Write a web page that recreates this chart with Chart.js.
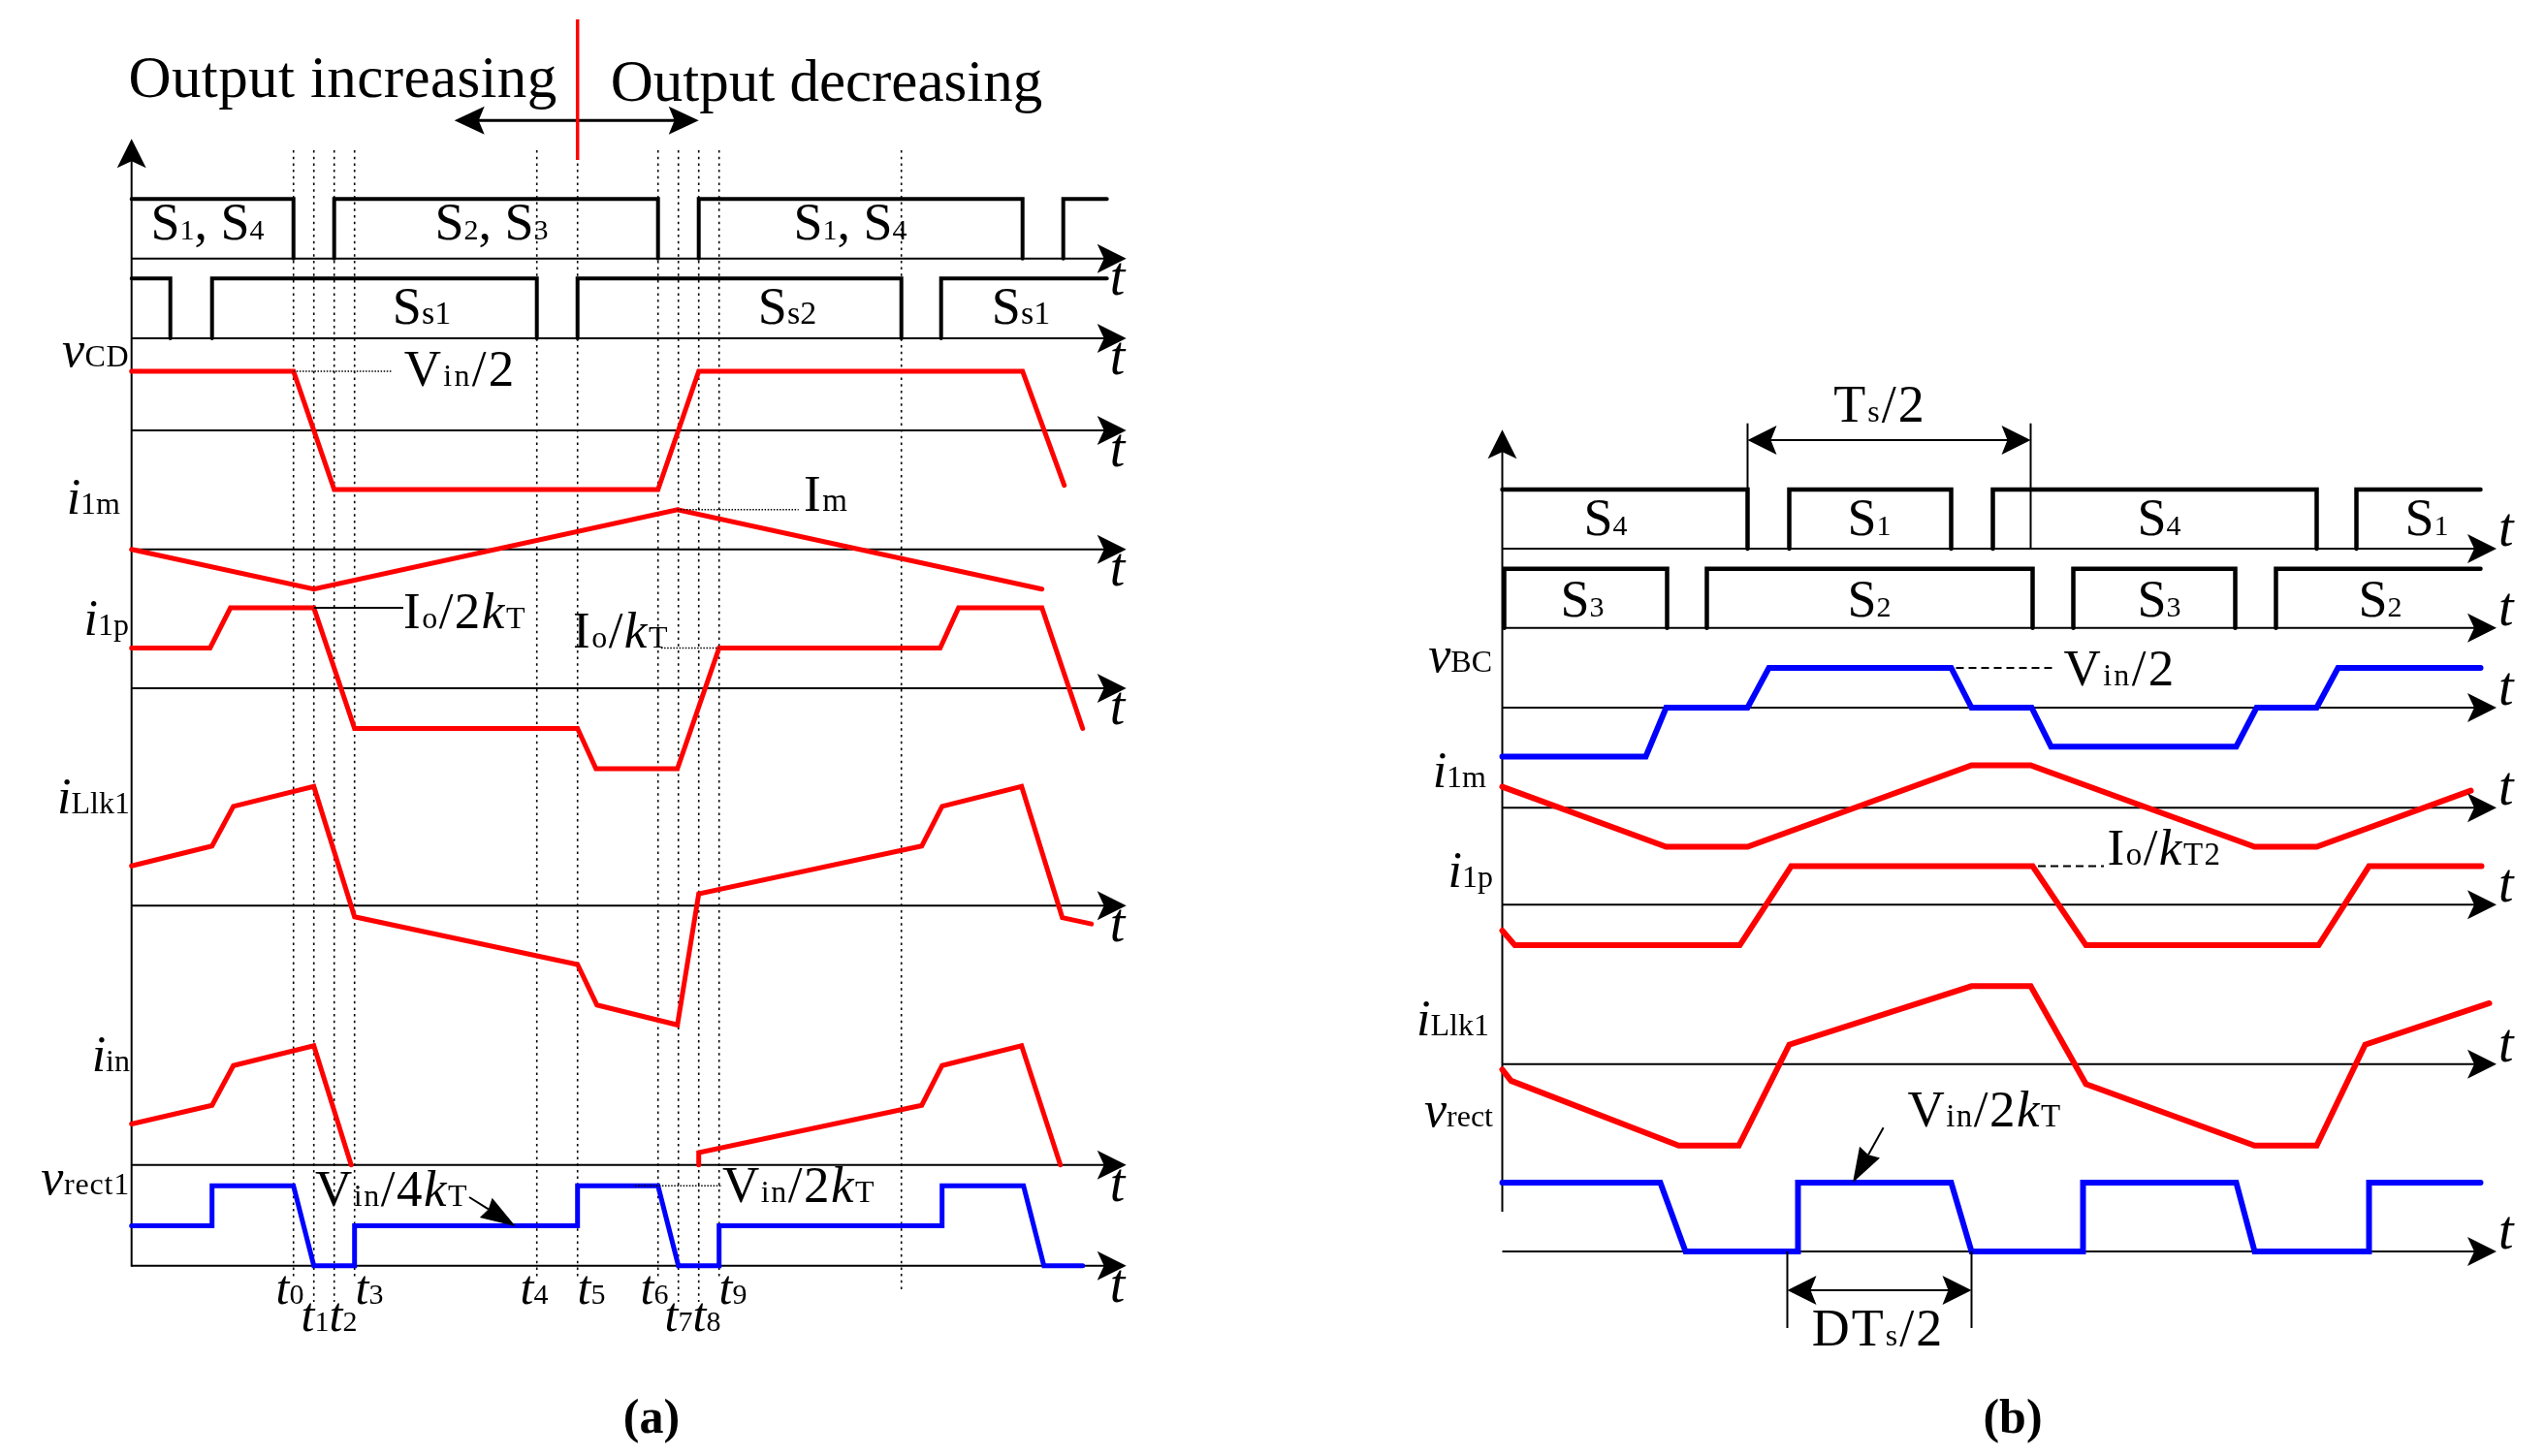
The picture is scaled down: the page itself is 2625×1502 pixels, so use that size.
<!DOCTYPE html>
<html>
<head>
<meta charset="utf-8">
<title>Switching waveforms (a) and (b)</title>
<script src="https://cdn.jsdelivr.net/npm/chart.js@4.4.1/dist/chart.umd.min.js"></script>
<style>
html,body{margin:0;padding:0;background:#fff;overflow:hidden;}
#c{display:block;}
</style>
</head>
<body>
<canvas id="c" width="2625" height="1502"></canvas>
<script>
// ================= DATA =================
// time t: arbitrary units measured from the vertical axis; levels in per-unit of each trace
// ---- Panel (a) ----
const aS14On = [[0, 16.7], [20.9, 54.3], [58.5, 91.9], [96.1, 100.6]];   // S1,S4 / S2,S3 gate on-intervals
const aSsOn  = [[0, 4.0], [8.3, 41.8], [46.0, 79.4], [83.5, 100.6]];     // Ss1 / Ss2 on-intervals
const aVcdT = [0, 16.7, 20.9, 54.3, 58.5, 91.9, 96.2];
const aVcdV = [1, 1, -1, -1, 1, 1, -0.93];
const aI1mT = [0, 18.8, 56.3, 93.9];
const aI1mV = [0, -1, 1, -1];
const aI1pT = [0, 8.1, 10.2, 18.8, 23.0, 46.0, 47.9, 56.3, 60.6, 83.4, 85.3, 93.9, 98.1];
const aI1pV = [1, 1, 2, 2, -1, -1, -2, -2, 1, 1, 2, 2, -1];
const aIlkT = [0, 8.3, 10.5, 18.8, 23.0, 46.0, 48.0, 56.3, 58.5, 81.5, 83.6, 91.8, 96.0, 99.0];
const aIlkV = [1.0, 1.5, 2.5, 3.0, -0.28, -1.48, -2.5, -3.0, 0.3, 1.5, 2.5, 3.0, -0.3, -0.46];
const aIinT = [0, 8.3, 10.5, 18.8, 22.65, 40.0, 58.5, 58.5, 81.5, 83.6, 91.8, 95.8];
const aIinV = [1.03, 1.5, 2.5, 3.0, 0, null, 0, 0.31, 1.5, 2.5, 3.0, 0];
const aVrT  = [0, 8.3, 8.3, 16.7, 18.8, 23.0, 23.0, 46.0, 46.0, 54.3, 56.4, 60.6, 60.6, 83.6, 83.6, 92.0, 94.1, 98.1];
const aVrV  = [1, 1, 2, 2, 0, 0, 1, 1, 2, 2, 0, 0, 1, 1, 2, 2, 0, 0];
const aInstants = [16.7, 18.8, 20.9, 23.0, 41.8, 46.0, 54.3, 56.4, 58.5, 60.6, 79.4];
const aInstantNames = ['0', '1', '2', '3', '4', '5', '6', '7', '8', '9', ''];
const aModeChange = 46.0;          // boundary "Output increasing | Output decreasing"
const aModeArrow = [33.3, 58.5];

// ---- Panel (b) ----
const bS41On = [[0, 25.3], [29.6, 46.3], [50.6, 84.0], [88.1, 100.9]];  // S4 / S1
const bS32On = [[0.2, 17.0], [21.1, 54.7], [58.9, 75.6], [79.8, 100.9]]; // S3 / S2
const bVbcT = [0, 14.8, 16.9, 25.3, 27.5, 46.3, 48.4, 54.6, 56.6, 75.7, 77.8, 84.0, 86.2, 100.9];
const bVbcV = [-1.23, -1.23, 0, 0, 1, 1, 0, 0, -0.98, -0.98, 0, 0, 1, 1];
const bI1mT = [0, 16.9, 25.3, 48.4, 54.5, 77.6, 84.0, 99.9];
const bI1mV = [0.53, -0.98, -0.98, 1.07, 1.07, -0.98, -0.98, 0.43];
const bI1pT = [0, 1.3, 24.5, 29.8, 54.7, 60.2, 84.2, 89.4, 101.0];
const bI1pV = [-0.65, -1.02, -1.02, 0.97, 0.97, -1.02, -1.02, 0.97, 0.97];
const bIlkT = [0, 0.9, 18.2, 24.4, 29.6, 48.4, 54.5, 60.2, 77.6, 84.0, 89.0, 101.8];
const bIlkV = [-0.14, -0.42, -2.05, -2.05, 0.49, 1.96, 1.96, -0.5, -2.05, -2.05, 0.49, 1.53];
const bVrT  = [0, 16.3, 18.9, 30.5, 30.5, 46.3, 48.4, 59.9, 59.9, 75.7, 77.6, 89.4, 89.4, 100.9];
const bVrV  = [1, 1, 0, 0, 1, 1, 0, 0, 1, 1, 0, 0, 1, 1];
const bTsHalf  = [25.3, 54.5];
const bDTsHalf = [29.4, 48.4];

// ================= LAYOUT (pixels) =================
const W = 2625, H = 1502;
const LA = { x0: 135.7, k: 10, end: 102.6, top: 143.3, bottom: 1305.7, pulseEnd: 100.6,
  rows: { s14: [266.7, 61.4], ss: [349, 61.7], vcd: [444, 61], i1m: [566.7, 41], i1p: [710, 41.5],
          ilk: [934.3, 41], iin: [1201.7, 41], vr: [1305.7, 41.2] } };
const LB = { x0: 1549.5, k: 10, end: 102.55, top: 443.3, bottom: 1250, pulseEnd: 100.9,
  rows: { s41: [566, 61], s32: [647.7, 61], vbc: [730, 41], i1m: [833.3, 41], i1p: [933.3, 41],
          ilk: [1097.7, 41], vr: [1291, 71] } };
const dotTop = 155;
const dotBottoms = [1318, 1343, 1343, 1318, 1318, 1318, 1318, 1343, 1343, 1318, 1333];
const instantLabelPos = [[299,1345],[325,1373],[354,1373],[381,1345],[551,1345],[610,1345],[675,1345],[700,1373],[729,1373],[756,1345]];

const RED = '#ff0000', BLUE = '#0000ff', BLACK = '#000000';
const FAM = '"Liberation Serif","Times New Roman",serif';

// ================= SCALES =================
const scales = {
  xa: { type: 'linear', axis: 'x', display: false, bounds: 'data', min: -LA.x0 / LA.k, max: (W - LA.x0) / LA.k },
  xb: { type: 'linear', axis: 'x', display: false, bounds: 'data', min: -LB.x0 / LB.k, max: (W - LB.x0) / LB.k }
};
function addRows(prefix, L) {
  for (const id in L.rows) {
    const [base, gain] = L.rows[id];
    scales[prefix + id] = { type: 'linear', axis: 'y', position: 'left', display: false, bounds: 'data',
      min: (base - H) / gain, max: base / gain };
  }
}
addRows('ya_', LA);
addRows('yb_', LB);

// ================= DATASETS =================
function pts(T, V) { return T.map((t, i) => ({ x: t, y: V[i] })); }
function pulsePts(on, end) {
  const p = [];
  on.forEach(([a, b]) => {
    if (a > 0) p.push({ x: a, y: 0 });
    p.push({ x: a, y: 1 }, { x: b, y: 1 });
    if (b < end) p.push({ x: b, y: 0 });
    p.push({ x: b, y: null });
  });
  return p;
}
function ds(label, xId, yId, data, color, w) {
  return { label, xAxisID: xId, yAxisID: yId, data, borderColor: color, backgroundColor: color,
    borderWidth: w, pointRadius: 0, pointHoverRadius: 0, tension: 0, fill: false, spanGaps: false,
    borderJoinStyle: 'miter', borderCapStyle: 'round' };
}
const datasets = [
  ds('vrect1 (a)', 'xa', 'ya_vr', pts(aVrT, aVrV), BLUE, 5),
  ds('vCD', 'xa', 'ya_vcd', pts(aVcdT, aVcdV), RED, 5),
  ds('i1m (a)', 'xa', 'ya_i1m', pts(aI1mT, aI1mV), RED, 5),
  ds('i1p (a)', 'xa', 'ya_i1p', pts(aI1pT, aI1pV), RED, 5),
  ds('iLlk1 (a)', 'xa', 'ya_ilk', pts(aIlkT, aIlkV), RED, 5),
  ds('iin', 'xa', 'ya_iin', pts(aIinT, aIinV), RED, 5),
  ds('S1,S4 / S2,S3', 'xa', 'ya_s14', pulsePts(aS14On, LA.pulseEnd), BLACK, 4),
  ds('Ss1 / Ss2', 'xa', 'ya_ss', pulsePts(aSsOn, LA.pulseEnd), BLACK, 4),
  ds('vBC', 'xb', 'yb_vbc', pts(bVbcT, bVbcV), BLUE, 6),
  ds('vrect (b)', 'xb', 'yb_vr', pts(bVrT, bVrV), BLUE, 6),
  ds('i1m (b)', 'xb', 'yb_i1m', pts(bI1mT, bI1mV), RED, 6),
  ds('i1p (b)', 'xb', 'yb_i1p', pts(bI1pT, bI1pV), RED, 6),
  ds('iLlk1 (b)', 'xb', 'yb_ilk', pts(bIlkT, bIlkV), RED, 6),
  ds('S4 / S1', 'xb', 'yb_s41', pulsePts(bS41On, LB.pulseEnd), BLACK, 4.5),
  ds('S3 / S2', 'xb', 'yb_s32', pulsePts(bS32On, LB.pulseEnd), BLACK, 4.5)
];

// ================= TEXT =================
const textsA = [
  { s: 'Output increasing', x: 132.5, y: 100, a: 'left', size: 61, ls: 0.4 },
  { s: 'Output decreasing', x: 629.7, y: 104, a: 'left', size: 61 },
  { s: 'S_{1}, S_{4}', x: 214, y: 247, a: 'center', size: 54, sub: 30 },
  { s: 'S_{2}, S_{3}', x: 507, y: 247, a: 'center', size: 54, sub: 30 },
  { s: 'S_{1}, S_{4}', x: 877, y: 247, a: 'center', size: 54, sub: 30 },
  { s: 'S_{s1}', x: 435, y: 333.5, a: 'center', size: 54, sub: 34 },
  { s: 'S_{s2}', x: 812, y: 334, a: 'center', size: 54, sub: 34 },
  { s: 'S_{s1}', x: 1053, y: 334, a: 'center', size: 54, sub: 34 },
  { s: '*v*_{CD}', x: 133, y: 378, a: 'right', size: 52, sub: 32, ls: 0.5 },
  { s: 'V_{in}/2', x: 416.7, y: 398.3, a: 'left', size: 53, sub: 32, ls: 2.3 },
  { s: '*i*_{1m}', x: 124, y: 530, a: 'right', size: 52, sub: 32 },
  { s: 'I_{m}', x: 829, y: 527, a: 'left', size: 53, sub: 33, ls: 1.5 },
  { s: '*i*_{1p}', x: 133, y: 655, a: 'right', size: 52, sub: 32 },
  { s: 'I_{o}/2*k*_{T}', x: 416, y: 648, a: 'left', size: 53, sub: 32, ls: 1.5 },
  { s: 'I_{o}/*k*_{T}', x: 591, y: 668, a: 'left', size: 53, sub: 32, ls: 1.5 },
  { s: '*i*_{Llk1}', x: 134, y: 839, a: 'right', size: 52, sub: 32 },
  { s: '*i*_{in}', x: 134, y: 1105, a: 'right', size: 52, sub: 32 },
  { s: '*v*_{rect1}', x: 134, y: 1232, a: 'right', size: 52, sub: 32, ls: 0.8 },
  { s: 'V_{in}/4*k*_{T}', x: 325, y: 1244, a: 'left', size: 53, sub: 32, ls: 1.5 },
  { s: 'V_{in}/2*k*_{T}', x: 745, y: 1240, a: 'left', size: 53, sub: 32, ls: 1.5 },
  { s: '(a)', x: 672, y: 1478, a: 'center', size: 50, bold: true }
];
const textsB = [
  { s: 'T_{s}/2', x: 1939, y: 435, a: 'center', size: 54, sub: 32, ls: 2 },
  { s: 'S_{4}', x: 1656, y: 552, a: 'center', size: 54, sub: 30 },
  { s: 'S_{1}', x: 1928, y: 552, a: 'center', size: 54, sub: 30 },
  { s: 'S_{4}', x: 2227, y: 552, a: 'center', size: 54, sub: 30 },
  { s: 'S_{1}', x: 2503, y: 552, a: 'center', size: 54, sub: 30 },
  { s: 'S_{3}', x: 1632, y: 636, a: 'center', size: 54, sub: 30 },
  { s: 'S_{2}', x: 1928, y: 636, a: 'center', size: 54, sub: 30 },
  { s: 'S_{3}', x: 2227, y: 636, a: 'center', size: 54, sub: 30 },
  { s: 'S_{2}', x: 2455, y: 636, a: 'center', size: 54, sub: 30 },
  { s: '*v*_{BC}', x: 1539, y: 693, a: 'right', size: 52, sub: 32 },
  { s: 'V_{in}/2', x: 2128.6, y: 706.7, a: 'left', size: 53, sub: 32, ls: 2.3 },
  { s: '*i*_{1m}', x: 1533, y: 811.7, a: 'right', size: 52, sub: 32 },
  { s: '*i*_{1p}', x: 1540, y: 915, a: 'right', size: 52, sub: 32 },
  { s: 'I_{o}/*k*_{T2}', x: 2173.5, y: 891.7, a: 'left', size: 53, sub: 33, ls: 1.5 },
  { s: '*i*_{Llk1}', x: 1536, y: 1068.3, a: 'right', size: 52, sub: 32 },
  { s: '*v*_{rect}', x: 1540, y: 1162.3, a: 'right', size: 52, sub: 32 },
  { s: 'V_{in}/2*k*_{T}', x: 1967.4, y: 1161.7, a: 'left', size: 53, sub: 33, ls: 1.5 },
  { s: 'DT_{s}/2', x: 1937, y: 1388.3, a: 'center', size: 54, sub: 32, ls: 2 },
  { s: '(b)', x: 2076, y: 1478, a: 'center', size: 50, bold: true }
];

// ================= DRAW HELPERS =================
function parseRich(str) {
  const out = []; let i = 0, buf = '', it = false;
  while (i < str.length) {
    const ch = str[i];
    if (ch === '*') { if (buf) { out.push([buf, it ? 'i' : '']); buf = ''; } it = !it; i++; }
    else if (ch === '_' && str[i + 1] === '{') {
      if (buf) { out.push([buf, it ? 'i' : '']); buf = ''; }
      const j = str.indexOf('}', i); out.push([str.slice(i + 2, j), 's']); i = j + 1;
    } else { buf += ch; i++; }
  }
  if (buf) out.push([buf, it ? 'i' : '']);
  return out;
}
function drawRich(ctx, o) {
  const ls = o.ls || 0;
  const segs = parseRich(o.s);
  const items = segs.map(([s, st]) => {
    const size = st === 's' ? (o.sub || o.size * 0.6) : o.size;
    const f = (o.bold ? 'bold ' : '') + (st === 'i' ? 'italic ' : '') + size + 'px ' + FAM;
    ctx.font = f;
    const w = ls ? [...s].reduce((a, ch) => a + ctx.measureText(ch).width + ls, 0) : ctx.measureText(s).width;
    return { s, f, w };
  });
  const tw = items.reduce((a, b) => a + b.w, 0);
  let cx = o.a === 'center' ? o.x - tw / 2 : o.a === 'right' ? o.x - tw : o.x;
  ctx.save();
  ctx.fillStyle = '#000'; ctx.textAlign = 'left'; ctx.textBaseline = 'alphabetic';
  for (const itm of items) {
    ctx.font = itm.f;
    if (ls) {
      let px = cx;
      for (const ch of itm.s) { ctx.fillText(ch, px, o.y); px += ctx.measureText(ch).width + ls; }
    } else ctx.fillText(itm.s, cx, o.y);
    cx += itm.w;
  }
  ctx.restore();
}
function line(ctx, x1, y1, x2, y2, w, color, dash) {
  ctx.save(); ctx.strokeStyle = color || '#000'; ctx.lineWidth = w; ctx.setLineDash(dash || []);
  ctx.lineCap = 'butt';
  ctx.beginPath(); ctx.moveTo(x1, y1); ctx.lineTo(x2, y2); ctx.stroke(); ctx.restore();
}
function head(ctx, x, y, ang, len, half, notch) {
  ctx.save(); ctx.translate(x, y); ctx.rotate(ang); ctx.fillStyle = '#000';
  ctx.beginPath(); ctx.moveTo(0, 0); ctx.lineTo(-len, -half); ctx.lineTo(-len + notch, 0); ctx.lineTo(-len, half);
  ctx.closePath(); ctx.fill(); ctx.restore();
}
function arrowTo(ctx, x1, y1, x2, y2, w, len, half, notch) {
  const ang = Math.atan2(y2 - y1, x2 - x1);
  line(ctx, x1, y1, x2 - Math.cos(ang) * (len - notch), y2 - Math.sin(ang) * (len - notch), w);
  head(ctx, x2, y2, ang, len, half, notch);
}
function dimension(ctx, xs, yTop, yBot, yArrow) {
  const [x1, x2] = xs;
  line(ctx, x1, yTop, x1, yBot, 2); line(ctx, x2, yTop, x2, yBot, 2);
  line(ctx, x1 + 20, yArrow, x2 - 20, yArrow, 2);
  head(ctx, x1, yArrow, Math.PI, 30, 15, 6);
  head(ctx, x2, yArrow, 0, 30, 15, 6);
}

const diagram = {
  id: 'diagram',
  beforeDraw(chart) {
    const c = chart.ctx; c.save(); c.fillStyle = '#fff'; c.fillRect(0, 0, chart.width, chart.height); c.restore();
  },
  beforeDatasetsDraw(chart) {
    const c = chart.ctx, S = chart.scales, xa = S.xa, xb = S.xb;
    // dotted time instants (a)
    aInstants.forEach((t, i) => {
      const x = xa.getPixelForValue(t);
      line(c, x, dotTop, x, dotBottoms[i], 1.6, '#000', [2.5, 4.2]);
    });
    // axes (a)
    const ax0 = xa.getPixelForValue(0), axE = xa.getPixelForValue(LA.end);
    line(c, ax0, LA.bottom + 1, ax0, LA.top + 20, 2);
    for (const id in LA.rows) { const y = S['ya_' + id].getPixelForValue(0); line(c, ax0, y, axE - 20, y, 2); }
    // axes (b)
    const bx0 = xb.getPixelForValue(0), bxE = xb.getPixelForValue(LB.end);
    line(c, bx0, LB.bottom, bx0, LB.top + 20, 2);
    for (const id in LB.rows) { const y = S['yb_' + id].getPixelForValue(0); line(c, bx0, y, bxE - 20, y, 2); }
  },
  afterDatasetsDraw(chart) {
    const c = chart.ctx, S = chart.scales, xa = S.xa, xb = S.xb;
    const ax0 = xa.getPixelForValue(0), axE = xa.getPixelForValue(LA.end);
    const bx0 = xb.getPixelForValue(0), bxE = xb.getPixelForValue(LB.end);
    // arrow heads on axes
    head(c, ax0, LA.top, -Math.PI / 2, 30, 15, 7);
    head(c, bx0, LB.top, -Math.PI / 2, 30, 15, 7);
    for (const id in LA.rows) {
      const y = S['ya_' + id].getPixelForValue(0);
      head(c, axE, y, 0, 30, 15, 7);
      drawRich(c, { s: '*t*', x: axE - 17, y: y + 37, a: 'left', size: 56 });
    }
    for (const id in LB.rows) {
      const y = S['yb_' + id].getPixelForValue(0);
      head(c, bxE, y, 0, 30, 15, 7);
      drawRich(c, { s: '*t*', x: bxE + 2, y: y - 3, a: 'left', size: 56 });
    }
    // mode change marker (a)
    const mx1 = xa.getPixelForValue(aModeArrow[0]), mx2 = xa.getPixelForValue(aModeArrow[1]);
    line(c, mx1 + 20, 124.3, mx2 - 20, 124.3, 3);
    head(c, mx1, 124.3, Math.PI, 31, 14.5, 6);
    head(c, mx2, 124.3, 0, 31, 14.5, 6);
    const mx = xa.getPixelForValue(aModeChange);
    line(c, mx, 20, mx, 165, 3.5, RED);
    // leaders (a)
    const fine = [1.5, 1.6];
    line(c, xa.getPixelForValue(16.7), S.ya_vcd.getPixelForValue(1), 405, S.ya_vcd.getPixelForValue(1), 1.5, '#000', fine);
    line(c, xa.getPixelForValue(56.3), S.ya_i1m.getPixelForValue(1), 823.7, S.ya_i1m.getPixelForValue(1), 1.5, '#000', fine);
    line(c, xa.getPixelForValue(18.8), S.ya_i1p.getPixelForValue(2), 416, S.ya_i1p.getPixelForValue(2), 2);
    line(c, 682, S.ya_i1p.getPixelForValue(1), xa.getPixelForValue(60.6), S.ya_i1p.getPixelForValue(1), 1.5, '#000', fine);
    line(c, 655, S.ya_vr.getPixelForValue(2), 745, S.ya_vr.getPixelForValue(2), 1.5, '#000', fine);
    arrowTo(c, 484, 1235, 531.7, 1265, 2, 36, 12, 3);
    // leaders (b)
    line(c, xb.getPixelForValue(46.8), S.yb_vbc.getPixelForValue(1), 2117, S.yb_vbc.getPixelForValue(1), 2, '#000', [8, 5]);
    line(c, 2102, S.yb_i1p.getPixelForValue(0.97), 2170, S.yb_i1p.getPixelForValue(0.97), 2, '#000', [8, 5]);
    arrowTo(c, 1942.6, 1163.3, 1911, 1220, 2, 36, 12, 3);
    // dimensions (b)
    dimension(c, bTsHalf.map(t => xb.getPixelForValue(t)), 436.7, S.yb_s41.getPixelForValue(0), 454);
    dimension(c, bDTsHalf.map(t => xb.getPixelForValue(t)), S.yb_vr.getPixelForValue(0), 1370, 1331);
    // texts
    textsA.forEach(o => drawRich(c, o));
    textsB.forEach(o => drawRich(c, o));
    aInstantNames.forEach((n, i) => {
      if (!n) return;
      const [x, y] = instantLabelPos[i];
      drawRich(c, { s: '*t*_{' + n + '}', x, y, a: 'center', size: 50, sub: 30 });
    });
  }
};

new Chart(document.getElementById('c'), {
  type: 'line',
  data: { datasets },
  options: {
    responsive: false, maintainAspectRatio: false, devicePixelRatio: 1, animation: false, events: [],
    layout: { padding: 0 },
    scales,
    plugins: { legend: { display: false }, tooltip: { enabled: false }, title: { display: false } }
  },
  plugins: [diagram]
});
</script>
</body>
</html>
